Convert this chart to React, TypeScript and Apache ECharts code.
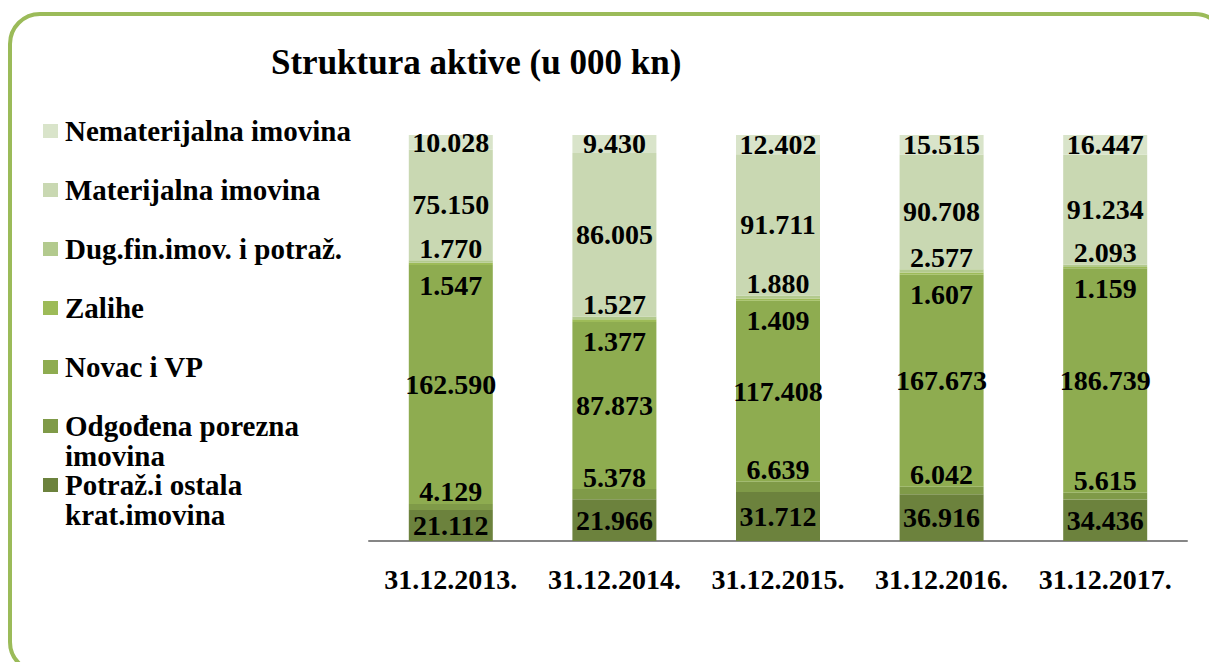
import React, { useEffect, useRef } from "react";
import * as echarts from "echarts";

// Categories (x axis)
const categories = ["31.12.2013.", "31.12.2014.", "31.12.2015.", "31.12.2016.", "31.12.2017."];

// Series, from bottom of the stack to top (values in 000 kn)
const seriesNames = [
  "Potraž.i ostala\nkrat.imovina",
  "Odgođena porezna\nimovina",
  "Novac i VP",
  "Zalihe",
  "Dug.fin.imov. i potraž.",
  "Materijalna imovina",
  "Nematerijalna imovina",
];

const potrazOstala = [21112, 21966, 31712, 36916, 34436];
const odgodjenaPorezna = [4129, 5378, 6639, 6042, 5615];
const novacVP = [162590, 87873, 117408, 167673, 186739];
const zalihe = [1547, 1377, 1409, 1607, 1159];
const dugFin = [1770, 1527, 1880, 2577, 2093];
const materijalna = [75150, 86005, 91711, 90708, 91234];
const nematerijalna = [10028, 9430, 12402, 15515, 16447];

const seriesValues = [potrazOstala, odgodjenaPorezna, novacVP, zalihe, dugFin, materijalna, nematerijalna];

const colors = ["#6C823D", "#7F9A48", "#8EAC50", "#9DBB58", "#B3CA8E", "#C9D8B2", "#D9E4CA"];

const FONT = "Liberation Serif";

function fmt(v: number): string {
  return String(v).replace(/\B(?=(\d{3})+(?!\d))/g, ".");
}

export default function App() {
  const ref = useRef<HTMLDivElement>(null);

  useEffect(() => {
    if (!ref.current) return;
    const chart = echarts.init(ref.current, undefined, { renderer: "svg" });

    const totals = categories.map((_, i) =>
      seriesValues.reduce((s, arr) => s + arr[i], 0)
    );

    // label placement per series (bottom to top)
    const labelCfg: any[] = [
      { position: "inside" },
      { position: "top", distance: -2 },
      { position: "inside" },
      { position: "bottom", distance: 6 },
      { position: "top", distance: -2 },
      { position: "inside" },
      { position: "inside" },
    ];

    const series = seriesNames.map((name, si) => ({
      name,
      type: "bar",
      stack: "total",
      barWidth: 84,
      itemStyle: { color: colors[si] },
      label: {
        show: true,
        ...labelCfg[si],
        color: "#000",
        fontFamily: FONT,
        fontWeight: "bold",
        fontSize: 28,
        formatter: (p: any) => fmt(seriesValues[si][p.dataIndex]),
      },
      data: seriesValues[si].map((v, i) => (v / totals[i]) * 100),
    }));

    // custom legend (top-to-bottom is reversed stack order)
    const legendEls: any[] = [];
    const order = seriesNames.map((_, i) => seriesNames.length - 1 - i);
    order.forEach((si, k) => {
      const cy = 131 + k * 59;
      legendEls.push({
        type: "rect",
        shape: { x: 43, y: cy - 7, width: 15, height: 14 },
        style: { fill: colors[si] },
      });
      legendEls.push({
        type: "text",
        x: 65,
        y: cy - 15,
        style: {
          text: seriesNames[si],
          fill: "#000",
          fontFamily: FONT,
          fontWeight: "bold",
          fontSize: 29,
          lineHeight: 30,
          verticalAlign: "top",
          align: "left",
        },
      });
    });

    chart.setOption({
      animation: false,
      backgroundColor: "#fff",
      title: {
        text: "Struktura aktive (u 000 kn)",
        left: 266,
        top: 40,
        textStyle: {
          fontFamily: FONT,
          fontWeight: "bold",
          fontSize: 35,
          color: "#000",
        },
      },
      grid: { left: 369, right: 22, top: 135, bottom: 121, containLabel: false },
      xAxis: {
        type: "category",
        data: categories,
        axisLine: { show: true, lineStyle: { color: "#868686", width: 2 } },
        axisTick: { show: false },
        axisLabel: {
          interval: 0,
          color: "#000",
          fontFamily: FONT,
          fontWeight: "bold",
          fontSize: 28,
          margin: 24,
        },
      },
      yAxis: {
        type: "value",
        min: 0,
        max: 100,
        show: false,
        splitLine: { show: false },
      },
      graphic: [
        {
          type: "rect",
          shape: { x: 10, y: 14, width: 1215, height: 658, r: 30 },
          style: { fill: "none", stroke: "#9BBB59", lineWidth: 4 },
          silent: true,
        },
        ...legendEls,
      ],
      series,
    });

    return () => chart.dispose();
  }, []);

  return (
    <div
      ref={ref}
      style={{ position: "fixed", left: 0, top: 0, width: 1209, height: 662 }}
    />
  );
}
